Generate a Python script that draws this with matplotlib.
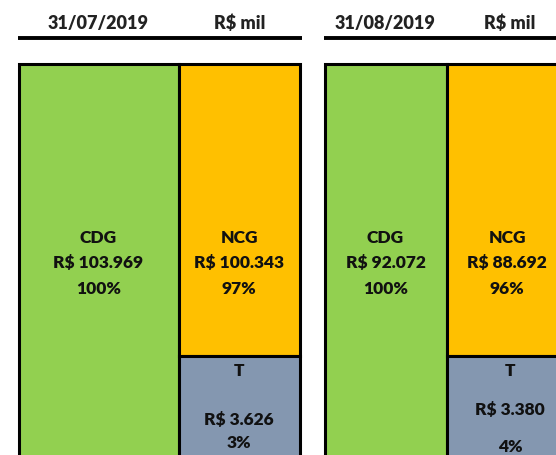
import matplotlib
matplotlib.use('Agg')
import matplotlib.pyplot as plt
from matplotlib.patches import Rectangle

# data
dates = ['31/07/2019', '31/08/2019']
unit = 'R$ mil'
cdg_values = ['103.969', '92.072']
cdg_pct = ['100%', '100%']
ncg_values = ['100.343', '88.692']
ncg_pct = ['97%', '96%']
t_values = ['3.626', '3.380']
t_pct = ['3%', '4%']

GREEN = '#92D050'
ORANGE = '#FFC000'
GRAY = '#8497B0'

plt.rcParams['font.family'] = ['Lato', 'DejaVu Sans']

fig = plt.figure(figsize=(5.56, 4.55), dpi=100)
ax = fig.add_axes([0, 0, 1, 1])
ax.set_xlim(0, 556)
ax.set_ylim(455, 0)
ax.axis('off')

lw = 2.2
# panel layout (pixels): left edge, split x, right edge
panels = [(18.5, 178.5, 299.5), (324.5, 446.5, 570)]
line_ends = [(18, 302), (324, 556)]
top, split_y, bottom = 63.5, 356, 470

for i, (x0, x1, x2) in enumerate(panels):
    # header
    ax.plot(line_ends[i], [37.5, 37.5], color='black', lw=2.8, solid_capstyle='butt')
    ax.text((x0 + x1) / 2, 23, dates[i], ha='center', va='center', fontsize=13, fontweight='heavy', color='#222222')
    ax.text(240 if i == 0 else 510, 23, unit, ha='center', va='center', fontsize=13, fontweight='heavy', color='#222222')

    ax.add_patch(Rectangle((x0, top), x1 - x0, bottom - top, facecolor=GREEN, edgecolor='black', lw=lw))
    ax.add_patch(Rectangle((x1, top), x2 - x1, split_y - top, facecolor=ORANGE, edgecolor='black', lw=lw))
    ax.add_patch(Rectangle((x1, split_y), x2 - x1, bottom - split_y, facecolor=GRAY, edgecolor='black', lw=lw))

    kw = dict(ha='center', va='center', fontsize=12.5, fontweight='heavy', color='#111111')
    cx = (x0 + x1) / 2
    ax.text(cx, 238, 'CDG', **kw)
    ax.text(cx, 263, 'R$ ' + cdg_values[i], **kw)
    ax.text(cx, 289, cdg_pct[i], **kw)

    nx = (x1 + x2) / 2 if i == 0 else 507
    ax.text(nx, 238, 'NCG', **kw)
    ax.text(nx, 263, 'R$ ' + ncg_values[i], **kw)
    ax.text(nx, 289, ncg_pct[i], **kw)

    tx = (x1 + x2) / 2 if i == 0 else 510
    ax.text(tx, 371, 'T', **kw)
    if i == 0:
        ax.text(tx, 420, 'R$ ' + t_values[i], **kw)
        ax.text(tx, 443, t_pct[i], **kw)
    else:
        ax.text(tx, 410, 'R$ ' + t_values[i], **kw)
        ax.text(tx, 447, t_pct[i], **kw)

fig.savefig('out.png', dpi=100)
